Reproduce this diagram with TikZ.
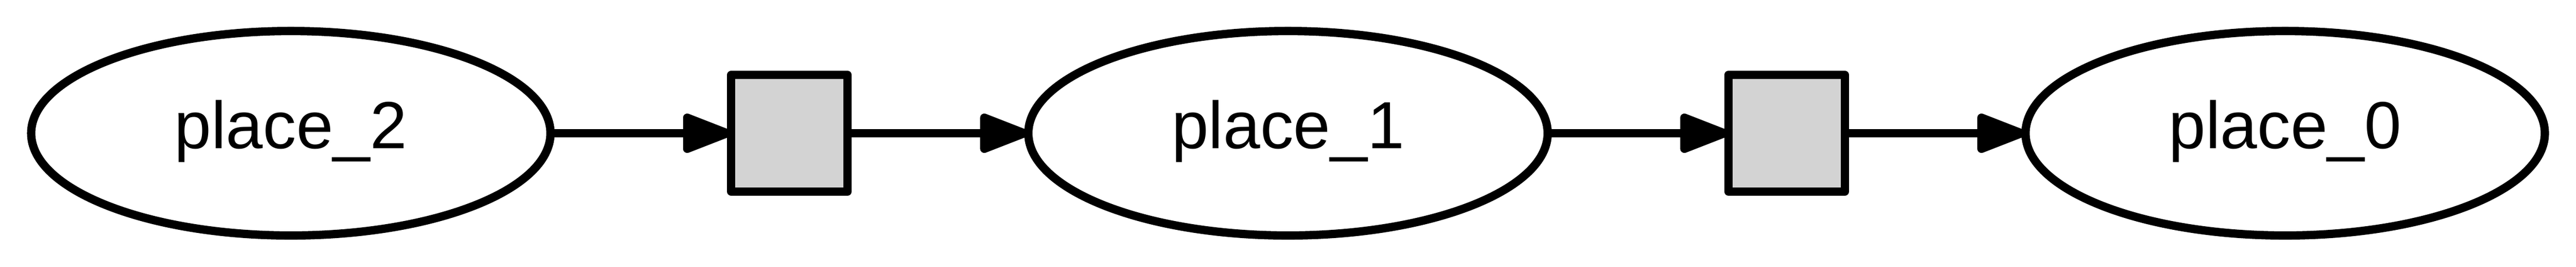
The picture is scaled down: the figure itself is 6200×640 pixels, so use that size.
\documentclass[tikz,border=0pt]{standalone}
\usepackage{fontspec}
\setmainfont{Liberation Sans}
\usetikzlibrary{arrows.meta,shapes.geometric}
\definecolor{tgray}{HTML}{D3D3D3}
\tikzset{
  place/.style={ellipse, draw=black, fill=white, line width=2pt, outer sep=0pt,
    minimum width=125pt, minimum height=49.1pt, inner sep=0pt,
    font=\fontsize{16pt}{19pt}\selectfont, text height=11.5pt, text depth=4.1pt},
  trans/.style={rectangle, draw=black, fill=tgray, line width=2pt, line join=round,
    outer sep=0pt, minimum width=28pt, minimum height=28pt, inner sep=0pt},
  arc/.style={draw=black, line width=2pt, -{Triangle[length=13.55pt, width=9.8pt, round]}}
}
\begin{document}
\begin{tikzpicture}[x=0.1pt, y=0.1pt]
\useasboundingbox (0,0) rectangle (6200,640);
\node[place] (p2) at (700,320) {place\_2};
\node[trans] (t1) at (1900,320) {};
\node[place] (p1) at (3100,320) {place\_1};
\node[trans] (t2) at (4300,320) {};
\node[place] (p0) at (5500,320) {place\_0};
\draw[arc] (p2) -- (t1);
\draw[arc] (t1) -- (p1);
\draw[arc] (p1) -- (t2);
\draw[arc] (t2) -- (p0);
\end{tikzpicture}
\end{document}
